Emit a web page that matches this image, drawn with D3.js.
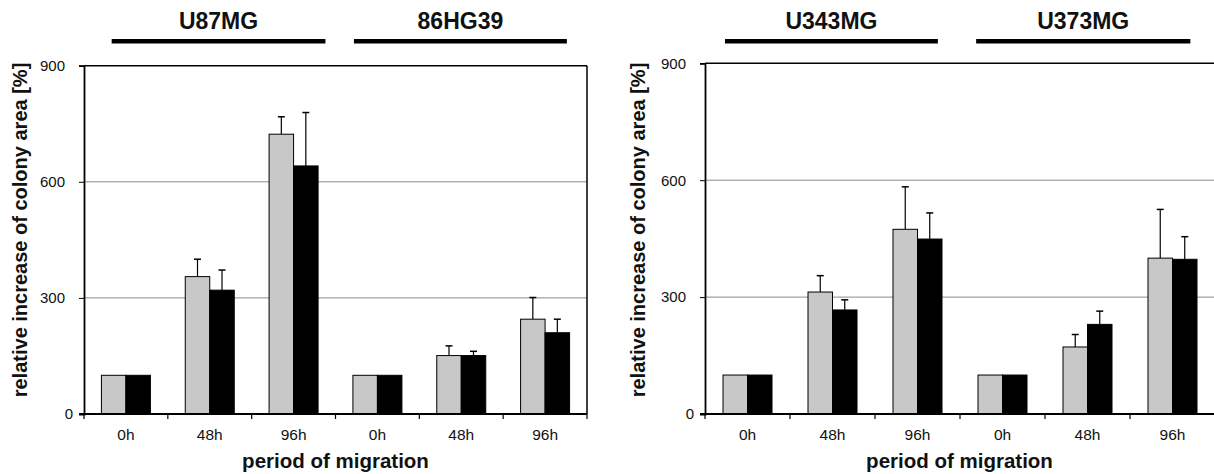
<!DOCTYPE html>
<html>
<head>
<meta charset="utf-8">
<script src="https://cdn.jsdelivr.net/npm/d3@7/dist/d3.min.js"></script>
<style>
  body { margin: 0; background: #fff; }
  svg text { font-family: "Liberation Sans", Arial, sans-serif; fill: #111; }
</style>
</head>
<body>
<svg width="1214" height="474"></svg>
<script>
// categories along the x axis (two cell lines per panel, three time points each)
const timePoints = ["0h", "48h", "96h", "0h", "48h", "96h"];
const yTicks = [0, 300, 600, 900];

// left panel
const leftLines = ["U87MG", "86HG39"];
const leftGrey = [100, 355, 723, 100, 151, 245];
const leftGreyErr = [0, 45, 45, 0, 25, 56];
const leftBlack = [100, 320, 641, 100, 151, 210];
const leftBlackErr = [0, 52, 138, 0, 11, 35];

// right panel
const rightLines = ["U343MG", "U373MG"];
const rightGrey = [100, 313, 474, 100, 172, 400];
const rightGreyErr = [0, 42, 109, 0, 32, 125];
const rightBlack = [100, 267, 449, 100, 230, 397];
const rightBlackErr = [0, 26, 67, 0, 34, 58];

const svg = d3.select("svg");

function drawPanel(opt) {
    let x = d3.scaleBand()
        .domain(d3.range(timePoints.length))
        .range([opt.left, opt.right])
        .padding(0);
    let y = d3.scaleLinear()
        .domain([0, 900])
        .range([414, opt.top]);
    let bw = x.bandwidth();
    let barW = 24.5;

    let g = svg.append("g");

    // gridlines
    g.selectAll(".grid")
        .data([300, 600])
        .enter()
        .append("line")
        .attr("x1", opt.left).attr("x2", opt.right)
        .attr("y1", d => y(d)).attr("y2", d => y(d))
        .attr("stroke", "#8a8a8a")
        .attr("stroke-width", 1);

    // top / right border
    g.append("line")
        .attr("x1", opt.left).attr("x2", opt.right)
        .attr("y1", y(900)).attr("y2", y(900))
        .attr("stroke", "#000").attr("stroke-width", 1.5);
    if (opt.rightBorder) {
        g.append("line")
            .attr("x1", opt.right).attr("x2", opt.right)
            .attr("y1", y(900)).attr("y2", y(0))
            .attr("stroke", "#000").attr("stroke-width", 1.5);
    }

    let series = [
        { vals: opt.grey, errs: opt.greyErr, fill: "#c8c8c8", off: -barW },
        { vals: opt.black, errs: opt.blackErr, fill: "#000", off: 0 }
    ];

    series.forEach(function (s) {
        let rows = s.vals.map((v, i) => ({ i: i, v: v, e: s.errs[i] }));
        let withErr = rows.filter(d => d.e > 0);
        let cx = d => x(d.i) + bw / 2 + s.off + barW / 2;

        // error bars (upper only)
        g.selectAll(null)
            .data(withErr)
            .enter()
            .append("line")
            .attr("x1", cx).attr("x2", cx)
            .attr("y1", d => y(d.v))
            .attr("y2", d => y(d.v + d.e))
            .attr("stroke", "#000").attr("stroke-width", 1.2);
        g.selectAll(null)
            .data(withErr)
            .enter()
            .append("line")
            .attr("x1", d => cx(d) - 3.5).attr("x2", d => cx(d) + 3.5)
            .attr("y1", d => y(d.v + d.e))
            .attr("y2", d => y(d.v + d.e))
            .attr("stroke", "#000").attr("stroke-width", 1.5);

        g.selectAll(null)
            .data(rows)
            .enter()
            .append("rect")
            .attr("x", d => x(d.i) + bw / 2 + s.off)
            .attr("y", d => y(d.v))
            .attr("width", barW)
            .attr("height", d => y(0) - y(d.v))
            .attr("fill", s.fill)
            .attr("stroke", "#000")
            .attr("stroke-width", 1);
    });

    // y axis
    let yAxis = g.append("g")
        .attr("transform", "translate(" + opt.left + ",0)")
        .call(d3.axisLeft(y).tickValues(yTicks).tickSize(5).tickPadding(6));
    yAxis.select(".domain").attr("stroke-width", 1.8);
    yAxis.selectAll("text")
        .style("font-size", "15px")
        .attr("fill", "#111")
        .attr("dx", d => d === 0 ? 0 : -8);

    // x axis: ticks at category boundaries
    let xb = g.append("g");
    xb.append("line")
        .attr("x1", opt.left - 5).attr("x2", opt.right)
        .attr("y1", y(0)).attr("y2", y(0))
        .attr("stroke", "#000").attr("stroke-width", 1.8);
    xb.selectAll(".xt")
        .data(d3.range(timePoints.length + 1))
        .enter()
        .append("line")
        .attr("x1", i => opt.left + i * bw).attr("x2", i => opt.left + i * bw)
        .attr("y1", y(0)).attr("y2", y(0) + 5)
        .attr("stroke", "#000").attr("stroke-width", 1.2);
    xb.selectAll(".xl")
        .data(timePoints)
        .enter()
        .append("text")
        .attr("x", (d, i) => x(i) + bw / 2)
        .attr("y", 440)
        .attr("text-anchor", "middle")
        .style("font-size", "15.5px")
        .text(d => d);

    // axis titles
    g.append("text")
        .attr("transform", "translate(" + opt.yLabelX + ",230) rotate(-90)")
        .attr("text-anchor", "middle")
        .style("font-size", "20px")
        .style("font-weight", "bold")
        .text("relative increase of colony area [%]");
    g.append("text")
        .attr("x", (opt.left + Math.min(opt.right, 1214)) / 2)
        .attr("y", 468)
        .attr("text-anchor", "middle")
        .style("font-size", "20.5px")
        .style("font-weight", "bold")
        .text("period of migration");

    // cell-line headers with bars
    opt.lines.forEach(function (name, k) {
        let span = opt.headers[k];
        let x0 = opt.left + span[0] * bw;
        let x1 = opt.left + span[1] * bw;
        g.append("rect")
            .attr("x", x0).attr("y", 39)
            .attr("width", x1 - x0).attr("height", 4.5)
            .attr("fill", "#000");
        g.append("text")
            .attr("x", (x0 + x1) / 2)
            .attr("y", 29)
            .attr("text-anchor", "middle")
            .style("font-size", "23px")
            .style("font-weight", "bold")
            .text(name);
    });
}

drawPanel({
    left: 84, right: 587, top: 65.7, rightBorder: true, yLabelX: 27,
    lines: leftLines, headers: [[0.33, 2.88], [3.22, 5.76]],
    grey: leftGrey, greyErr: leftGreyErr, black: leftBlack, blackErr: leftBlackErr
});
drawPanel({
    left: 705, right: 1215, top: 63.3, rightBorder: false, yLabelX: 645,
    lines: rightLines, headers: [[0.235, 2.74], [3.19, 5.71]],
    grey: rightGrey, greyErr: rightGreyErr, black: rightBlack, blackErr: rightBlackErr
});
</script>
</body>
</html>
